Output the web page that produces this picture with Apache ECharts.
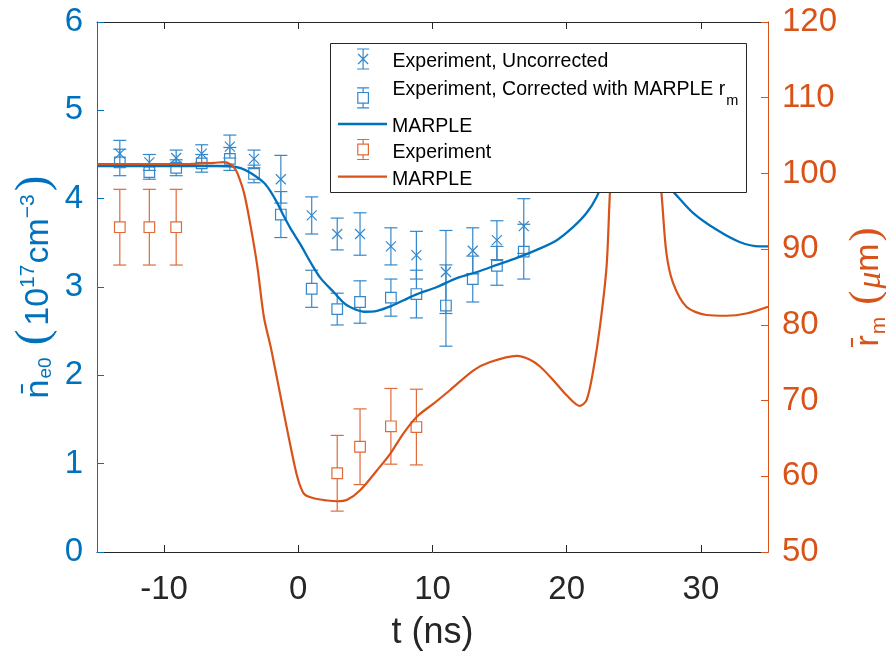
<!DOCTYPE html>
<html>
<head>
<meta charset="utf-8">
<script src="https://cdn.jsdelivr.net/npm/echarts@6/dist/echarts.min.js"></script>
<style>
  html, body { margin: 0; padding: 0; background: #fff; }
  #chart { width: 886px; height: 656px; }
</style>
</head>
<body>
<div id="chart"></div>
<script>
// ---- Measured points (time in ns) ----
const tExp = [-13.3, -11.1, -9.1, -7.2, -5.1, -3.3, -1.3, 1.0, 2.9, 4.6, 6.9, 8.8, 11.0, 13.0, 14.8, 16.8];

// Density, uncorrected (1e17 cm^-3) and its error half-width
const nUncorr   = [4.51, 4.41, 4.46, 4.51, 4.59, 4.45, 4.22, 3.81, 3.60, 3.60, 3.46, 3.36, 3.17, 3.41, 3.53, 3.69];
const errUncorr = [0.15, 0.09, 0.09, 0.10, 0.13, 0.10, 0.27, 0.21, 0.18, 0.24, 0.21, 0.27, 0.47, 0.26, 0.22, 0.31];

// Density, corrected with simulated r_m
const nCorr   = [4.41, 4.30, 4.35, 4.40, 4.45, 4.28, 3.82, 2.98, 2.75, 2.83, 2.88, 2.92, 2.79, 3.09, 3.24, 3.40];
const errCorr = [0.15, 0.08, 0.09, 0.10, 0.13, 0.10, 0.26, 0.21, 0.18, 0.24, 0.21, 0.27, 0.46, 0.26, 0.22, 0.31];

// Measured radius r_m (um)
const tRad   = [-13.3, -11.1, -9.1, 2.9, 4.6, 6.9, 8.8];
const rExp   = [92.9, 92.9, 92.9, 60.4, 63.9, 66.6, 66.5];
const errRad = [5.0, 5.0, 5.0, 5.0, 5.0, 5.0, 5.0];

// MARPLE simulation: density
const simNT = [-15, -8, -6, -5.03, -4.29, -3.55, -2.56, -2.06, -1.56, -1.07, -0.57, 0.17, 0.91, 1.66, 2.65, 3.39, 3.89, 4.88, 5.87, 6.86, 7.85, 8.85, 10.33, 11.82, 13.31, 14.80, 16.28, 17.77, 19.26, 20.49, 21.49, 22.23, 23.0, 23.97, 25.45, 26.56, 27.08, 28.05, 29.41, 31.15, 32.88, 34.37, 35];
const simN  = [4.37, 4.37, 4.37, 4.367, 4.345, 4.29, 4.18, 4.08, 3.95, 3.80, 3.66, 3.48, 3.28, 3.10, 2.94, 2.82, 2.77, 2.72, 2.73, 2.78, 2.85, 2.92, 3.00, 3.10, 3.17, 3.25, 3.33, 3.42, 3.53, 3.68, 3.84, 4.02, 4.30, 4.55, 4.67, 4.44, 4.21, 4.06, 3.84, 3.65, 3.51, 3.46, 3.46];

// MARPLE simulation: radius
const simRT = [-15, -8, -6.3, -5.5, -5.03, -4.8, -4.54, -4.04, -3.55, -3.05, -2.56, -2.06, -1.56, -1.07, -0.57, -0.07, 0.42, 1.16, 2.16, 2.9, 3.64, 4.63, 5.87, 6.86, 7.85, 8.85, 10.08, 11.32, 13.06, 14.3, 16.28, 17.27, 18.01, 19.0, 20.0, 20.99, 21.49, 21.98, 22.48, 22.97, 23.22, 23.6, 24.3, 25.0, 25.8, 26.5, 27.06, 27.43, 27.93, 28.92, 30.41, 31.9, 33.38, 35];
const simR  = [101.24, 101.25, 101.4, 101.5, 101.2, 100.8, 100.05, 97.4, 93.0, 87.7, 81.0, 77.1, 72.7, 68.3, 63.9, 59.9, 57.7, 57.1, 56.8, 56.7, 56.9, 58.2, 60.8, 63.0, 65.7, 67.9, 69.6, 71.4, 74.0, 75.1, 75.9, 75.4, 74.5, 72.7, 70.7, 69.3, 70.1, 74.0, 79.8, 87.7, 97.4, 108, 114, 116, 114, 107, 97.4, 89.5, 85.5, 82.4, 81.3, 81.2, 81.5, 82.4];

// Axis tick positions
const xTicks = [-10, 0, 10, 20, 30];

// ---- Styling ----
const BLUE = '#0072BD';
const BLUE_BAR = '#3388cc';
const RED = '#D95319';
const RED_BAR = '#e06a3a';
const AXIS_GRAY = '#262626';
const FONT = 'Liberation Sans, Arial, Helvetica, sans-serif';

// Error bar with an 'x' or square marker, drawn through the axis scales
function errorBar(color, marker) {
  return function (params, api) {
    const t = api.value(0), v = api.value(1), e = api.value(2);
    const c = api.coord([t, v]);
    const hi = api.coord([t, v + e]);
    const lo = api.coord([t, v - e]);
    const cap = 6.5, s = 5.3, m = 5;
    const st = { stroke: color, lineWidth: 1.2, fill: 'none' };
    const kids = [
      { type: 'line', shape: { x1: c[0] - cap, y1: hi[1], x2: c[0] + cap, y2: hi[1] }, style: st },
      { type: 'line', shape: { x1: c[0] - cap, y1: lo[1], x2: c[0] + cap, y2: lo[1] }, style: st }
    ];
    if (marker === 'x') {
      kids.push({ type: 'line', shape: { x1: c[0], y1: hi[1], x2: c[0], y2: lo[1] }, style: st });
      kids.push({ type: 'line', shape: { x1: c[0] - m, y1: c[1] - m, x2: c[0] + m, y2: c[1] + m }, style: st });
      kids.push({ type: 'line', shape: { x1: c[0] - m, y1: c[1] + m, x2: c[0] + m, y2: c[1] - m }, style: st });
    } else {
      kids.push({ type: 'line', shape: { x1: c[0], y1: hi[1], x2: c[0], y2: c[1] - s }, style: st });
      kids.push({ type: 'line', shape: { x1: c[0], y1: c[1] + s, x2: c[0], y2: lo[1] }, style: st });
      kids.push({ type: 'rect', shape: { x: c[0] - s, y: c[1] - s, width: 2 * s, height: 2 * s }, style: st });
    }
    return { type: 'group', children: kids };
  };
}

const zip3 = (a, b, c) => a.map((x, i) => [x, b[i], c[i]]);
const zip2 = (a, b) => a.map((x, i) => [x, b[i]]);

// Legend glyphs
const ICON_X = 'path://M4,0L16,0M10,0L10,20M4,20L16,20M5,5L15,15M15,5L5,15';
const ICON_SQ = 'path://M4,0L16,0M10,0L10,4.7M4,20L16,20M10,15.3L10,20M4.7,4.7L15.3,4.7L15.3,15.3L4.7,15.3Z';

const NAMES = {
  unc: 'Experiment, Uncorrected',
  cor: 'Experiment, Corrected with MARPLE rm',
  simN: 'MARPLE (density)',
  rad: 'Experiment (radius)',
  simR: 'MARPLE (radius)'
};
const LABELS = {};
LABELS[NAMES.unc] = '{c|Experiment, Uncorrected}';
LABELS[NAMES.cor] = '{a|Experiment, Corrected with MARPLE r}{s|m}';
LABELS[NAMES.simN] = '{c|MARPLE}';
LABELS[NAMES.rad] = '{c|Experiment}';
LABELS[NAMES.simR] = '{c|MARPLE}';

// One legend row; glyph rows are shifted so the bar sits centred in the 49px slot
function legendRow(name, top, kind, color) {
  const item = { name: name };
  let ih = 20, left = 338;
  if (kind === 'line') {
    item.icon = 'rect';
    item.itemStyle = { color: color, borderWidth: 0 };
    ih = 2.3;
  } else {
    item.icon = kind;
    item.itemStyle = { color: 'transparent', borderColor: color, borderWidth: 1.2 };
    left = 356.5;
  }
  return {
    data: [item],
    left: left,
    top: top,
    orient: 'vertical',
    padding: 0,
    itemWidth: 49,
    itemHeight: ih,
    selectedMode: false,
    formatter: n => LABELS[n],
    textStyle: {
      fontFamily: FONT, fontSize: 19.5, color: '#000',
      rich: {
        c: { fontFamily: FONT, fontSize: 19.5, lineHeight: 20, color: '#000', padding: [6, 0, 0, 0] },
        a: { fontFamily: FONT, fontSize: 19.5, lineHeight: 22, color: '#000', padding: [10, 0, 9, 0], verticalAlign: 'bottom' },
        s: { fontFamily: FONT, fontSize: 14.5, lineHeight: 16, color: '#000', padding: [0, 0, 0, 1], verticalAlign: 'bottom' }
      }
    }
  };
}

const chart = echarts.init(document.getElementById('chart'), null, { renderer: 'canvas' });

chart.setOption({
  animation: false,
  backgroundColor: '#fff',
  textStyle: { fontFamily: FONT },
  grid: { left: 97, right: 118, top: 22, bottom: 104, containLabel: false, outerBoundsMode: 'none' },
  xAxis: [
    {
      type: 'value', min: -15, max: 35, position: 'bottom',
      axisLine: { show: true, onZero: false, lineStyle: { color: AXIS_GRAY, width: 1 } },
      axisTick: { show: true, inside: true, length: 7, customValues: xTicks, lineStyle: { color: AXIS_GRAY } },
      axisLabel: { customValues: xTicks, fontSize: 33, color: AXIS_GRAY, margin: 21, fontFamily: FONT },
      splitLine: { show: false },
      name: 't (ns)', nameLocation: 'middle', nameGap: 63, nameMoveOverlap: false,
      nameTextStyle: { fontSize: 36, color: AXIS_GRAY, fontFamily: FONT }
    },
    {
      type: 'value', min: -15, max: 35, position: 'top',
      axisLine: { show: true, onZero: false, lineStyle: { color: AXIS_GRAY, width: 1 } },
      axisTick: { show: true, inside: true, length: 7, customValues: xTicks, lineStyle: { color: AXIS_GRAY } },
      axisLabel: { show: false },
      splitLine: { show: false }
    }
  ],
  yAxis: [
    {
      type: 'value', min: 0, max: 6, interval: 1, position: 'left',
      axisLine: { show: true, onZero: false, lineStyle: { color: BLUE, width: 1 } },
      axisTick: { show: true, inside: true, length: 7, lineStyle: { color: BLUE } },
      axisLabel: { fontSize: 33, color: BLUE, margin: 14, fontFamily: FONT },
      splitLine: { show: false },
      name: '{n|n\u0304}{b|e0}{p|(}{t|10}{u|17}{t|cm}{u|\u22123}{q|)}',
      nameLocation: 'middle', nameRotate: 90, nameGap: 37, nameMoveOverlap: false,
      nameTextStyle: {
        color: BLUE, fontFamily: FONT, fontSize: 34,
        rich: {
          n: { fontSize: 34, lineHeight: 34, padding: [0, 0, 4, 0], verticalAlign: 'bottom', color: BLUE, fontFamily: FONT },
          b: { fontSize: 19, lineHeight: 19, padding: [0, 0, 5, 1], verticalAlign: 'bottom', color: BLUE, fontFamily: FONT },
          p: { fontSize: 47, lineHeight: 47, padding: [0, 4, 2, 12], verticalAlign: 'bottom', color: BLUE, fontFamily: 'Liberation Serif' },
          q: { fontSize: 47, lineHeight: 47, padding: [0, 0, 2, 2], verticalAlign: 'bottom', color: BLUE, fontFamily: 'Liberation Serif' },
          t: { fontSize: 34, lineHeight: 34, padding: [0, 0, 4, 0], verticalAlign: 'bottom', color: BLUE, fontFamily: FONT },
          u: { fontSize: 21, lineHeight: 21, padding: [0, 1, 21, 0], verticalAlign: 'bottom', color: BLUE, fontFamily: FONT }
        }
      }
    },
    {
      type: 'value', min: 50, max: 120, interval: 10, position: 'right',
      axisLine: { show: true, onZero: false, lineStyle: { color: RED, width: 1 } },
      axisTick: { show: true, inside: true, length: 7, lineStyle: { color: RED } },
      axisLabel: { fontSize: 33, color: RED, margin: 14, fontFamily: FONT },
      splitLine: { show: false },
      name: '{n|r\u0304}{b|m}{p|(}{mu|\u03bc}{t|m}{q|)}',
      nameLocation: 'middle', nameRotate: 90, nameGap: 80, nameMoveOverlap: false,
      nameTextStyle: {
        color: RED, fontFamily: FONT, fontSize: 34,
        rich: {
          n: { fontSize: 34, lineHeight: 34, padding: [0, 0, 4, 0], verticalAlign: 'bottom', color: RED, fontFamily: FONT },
          b: { fontSize: 21, lineHeight: 21, padding: [0, 0, 0, 1], verticalAlign: 'bottom', color: RED, fontFamily: FONT },
          p: { fontSize: 42, lineHeight: 42, padding: [0, 2, 2, 12], verticalAlign: 'bottom', color: RED, fontFamily: 'Liberation Serif' },
          q: { fontSize: 42, lineHeight: 42, padding: [0, 0, 2, 2], verticalAlign: 'bottom', color: RED, fontFamily: 'Liberation Serif' },
          mu: { fontSize: 34, lineHeight: 34, padding: [0, 0, 2, 0], verticalAlign: 'bottom', color: RED, fontFamily: 'Liberation Serif', fontStyle: 'italic' },
          t: { fontSize: 34, lineHeight: 34, padding: [0, 0, 4, 0], verticalAlign: 'bottom', color: RED, fontFamily: FONT }
        }
      }
    }
  ],
  legend: [
    legendRow(NAMES.unc, 46, ICON_X, BLUE_BAR),
    legendRow(NAMES.cor, 69.8, ICON_SQ, BLUE_BAR),
    legendRow(NAMES.simN, 111, 'line', BLUE),
    legendRow(NAMES.rad, 136.5, ICON_SQ, RED_BAR),
    legendRow(NAMES.simR, 163.7, 'line', RED)
  ],
  graphic: {
    elements: [
      {
        type: 'rect', z: 3, silent: true,
        shape: { x: 330.5, y: 43.5, width: 416, height: 149 },
        style: { fill: '#fff', stroke: AXIS_GRAY, lineWidth: 1 }
      }
    ]
  },
  series: [
    {
      name: NAMES.unc, type: 'custom', xAxisIndex: 0, yAxisIndex: 0, z: 2,
      renderItem: errorBar(BLUE_BAR, 'x'),
      itemStyle: { color: BLUE_BAR },
      data: zip3(tExp, nUncorr, errUncorr)
    },
    {
      name: NAMES.cor, type: 'custom', xAxisIndex: 0, yAxisIndex: 0, z: 2,
      renderItem: errorBar(BLUE_BAR, 'sq'),
      itemStyle: { color: BLUE_BAR },
      data: zip3(tExp, nCorr, errCorr)
    },
    {
      name: NAMES.simN, type: 'line', xAxisIndex: 0, yAxisIndex: 0, z: 2,
      showSymbol: false, symbol: 'none', smooth: 0.3,
      lineStyle: { color: BLUE, width: 2.3 }, itemStyle: { color: BLUE },
      data: zip2(simNT, simN)
    },
    {
      name: NAMES.rad, type: 'custom', xAxisIndex: 0, yAxisIndex: 1, z: 2,
      renderItem: errorBar(RED_BAR, 'sq'),
      itemStyle: { color: RED_BAR },
      data: zip3(tRad, rExp, errRad)
    },
    {
      name: NAMES.simR, type: 'line', xAxisIndex: 0, yAxisIndex: 1, z: 2,
      showSymbol: false, symbol: 'none', smooth: 0.3,
      lineStyle: { color: RED, width: 2.2 }, itemStyle: { color: RED },
      data: zip2(simRT, simR)
    }
  ]
});
</script>
</body>
</html>
